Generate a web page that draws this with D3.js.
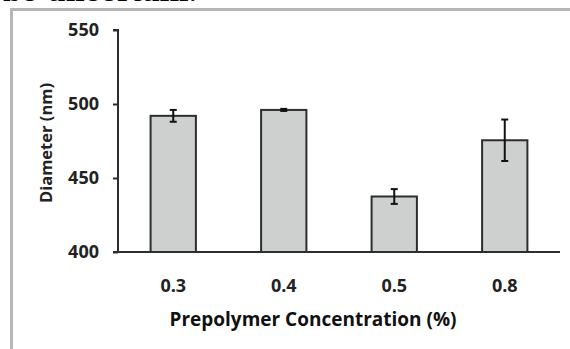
<!DOCTYPE html>
<html>
<head>
<meta charset="utf-8">
<script src="https://cdn.jsdelivr.net/npm/d3@7"></script>
<style>
  body { margin: 0; background: #fff; }
  svg { display: block; }
  .tick text { font-family: "Open Sans", sans-serif; font-weight: bold; fill: #222; }
</style>
</head>
<body>
<svg width="570" height="349"></svg>
<script>
// concentration categories and measured diameters
var categories = ["0.3", "0.4", "0.5", "0.8"];
var diameters = [492, 496, 437.5, 475.5];
var errors = [4, 0.7, 5, 14];
var yTicks = [400, 450, 500, 550];

var svg = d3.select("svg"),
    width = +svg.attr("width"),
    height = +svg.attr("height");

// text cut off from the page above
svg.append("text")
    .attr("x", 3)
    .attr("y", 1)
    .style("font-family", "'DejaVu Serif', serif")
    .style("font-weight", "bold")
    .style("font-size", "26px")
    .text("be uncertain.");

// frame
svg.append("path")
    .attr("d", "M11.5," + height + "V9.5H" + width)
    .attr("fill", "none")
    .attr("stroke", "#b4b7b6")
    .attr("stroke-width", 3);

var margin = {left: 118, right: 10, top: 30, bottom: 97};

var x = d3.scaleBand()
    .domain(categories)
    .range([margin.left, 560])
    .paddingInner(0.59)
    .paddingOuter(0.295);

var y = d3.scaleLinear()
    .domain([400, 550])
    .range([252, 30]);

var g = svg.append("g");

// bars
g.selectAll(".bar")
    .data(categories)
    .enter()
    .append("rect")
    .attr("class", "bar")
    .attr("x", function(d) { return x(d); })
    .attr("y", function(d, i) { return y(diameters[i]); })
    .attr("width", x.bandwidth())
    .attr("height", function(d, i) { return y(400) - y(diameters[i]); })
    .attr("fill", "#cdd0cf")
    .attr("stroke", "#2b2e2d")
    .attr("stroke-width", 2);

// error bars
var eb = g.selectAll(".err")
    .data(categories)
    .enter()
    .append("g")
    .attr("class", "err")
    .attr("transform", function(d) { return "translate(" + (x(d) + x.bandwidth() / 2) + ",0)"; });

eb.append("line")
    .attr("y1", function(d, i) { return y(diameters[i] + errors[i]); })
    .attr("y2", function(d, i) { return y(diameters[i] - errors[i]); })
    .attr("stroke", "#111")
    .attr("stroke-width", 2);
eb.append("line")
    .attr("x1", -3.5).attr("x2", 3.5)
    .attr("y1", function(d, i) { return y(diameters[i] + errors[i]); })
    .attr("y2", function(d, i) { return y(diameters[i] + errors[i]); })
    .attr("stroke", "#111")
    .attr("stroke-width", 2);
eb.append("line")
    .attr("x1", -3.5).attr("x2", 3.5)
    .attr("y1", function(d, i) { return y(diameters[i] - errors[i]); })
    .attr("y2", function(d, i) { return y(diameters[i] - errors[i]); })
    .attr("stroke", "#111")
    .attr("stroke-width", 2);

// y axis
var yAxis = g.append("g")
    .attr("transform", "translate(" + margin.left + ",0)")
    .call(d3.axisLeft(y).tickValues(yTicks).tickSize(5).tickPadding(14));
yAxis.select(".domain").attr("stroke", "#2b2e2d").attr("stroke-width", 2)
    .attr("d", "M" + (-5) + "," + y(550) + "H0V" + y(400));
yAxis.selectAll(".tick line").attr("stroke", "#2b2e2d").attr("stroke-width", 2);
yAxis.selectAll(".tick text").style("font-size", "18px");

// x axis
var xAxis = g.append("g")
    .attr("transform", "translate(0," + y(400) + ")")
    .call(d3.axisBottom(x).tickSize(0).tickPadding(27));
xAxis.select(".domain").attr("stroke", "#2b2e2d").attr("stroke-width", 2)
    .attr("d", "M" + (margin.left - 5) + ",0H560");
xAxis.selectAll(".tick text").style("font-size", "18px");

// axis titles
svg.append("text")
    .attr("x", 313)
    .attr("y", 326)
    .attr("text-anchor", "middle")
    .style("font-family", "'Open Sans', sans-serif")
    .style("font-weight", "bold")
    .style("font-size", "19px")
    .style("fill", "#111")
    .text("Prepolymer Concentration (%)");

svg.append("text")
    .attr("transform", "translate(52,143) rotate(-90)")
    .attr("text-anchor", "middle")
    .style("font-family", "'Open Sans', sans-serif")
    .style("font-weight", "bold")
    .style("font-size", "16.5px")
    .style("fill", "#222")
    .text("Diameter (nm)");
</script>
</body>
</html>
